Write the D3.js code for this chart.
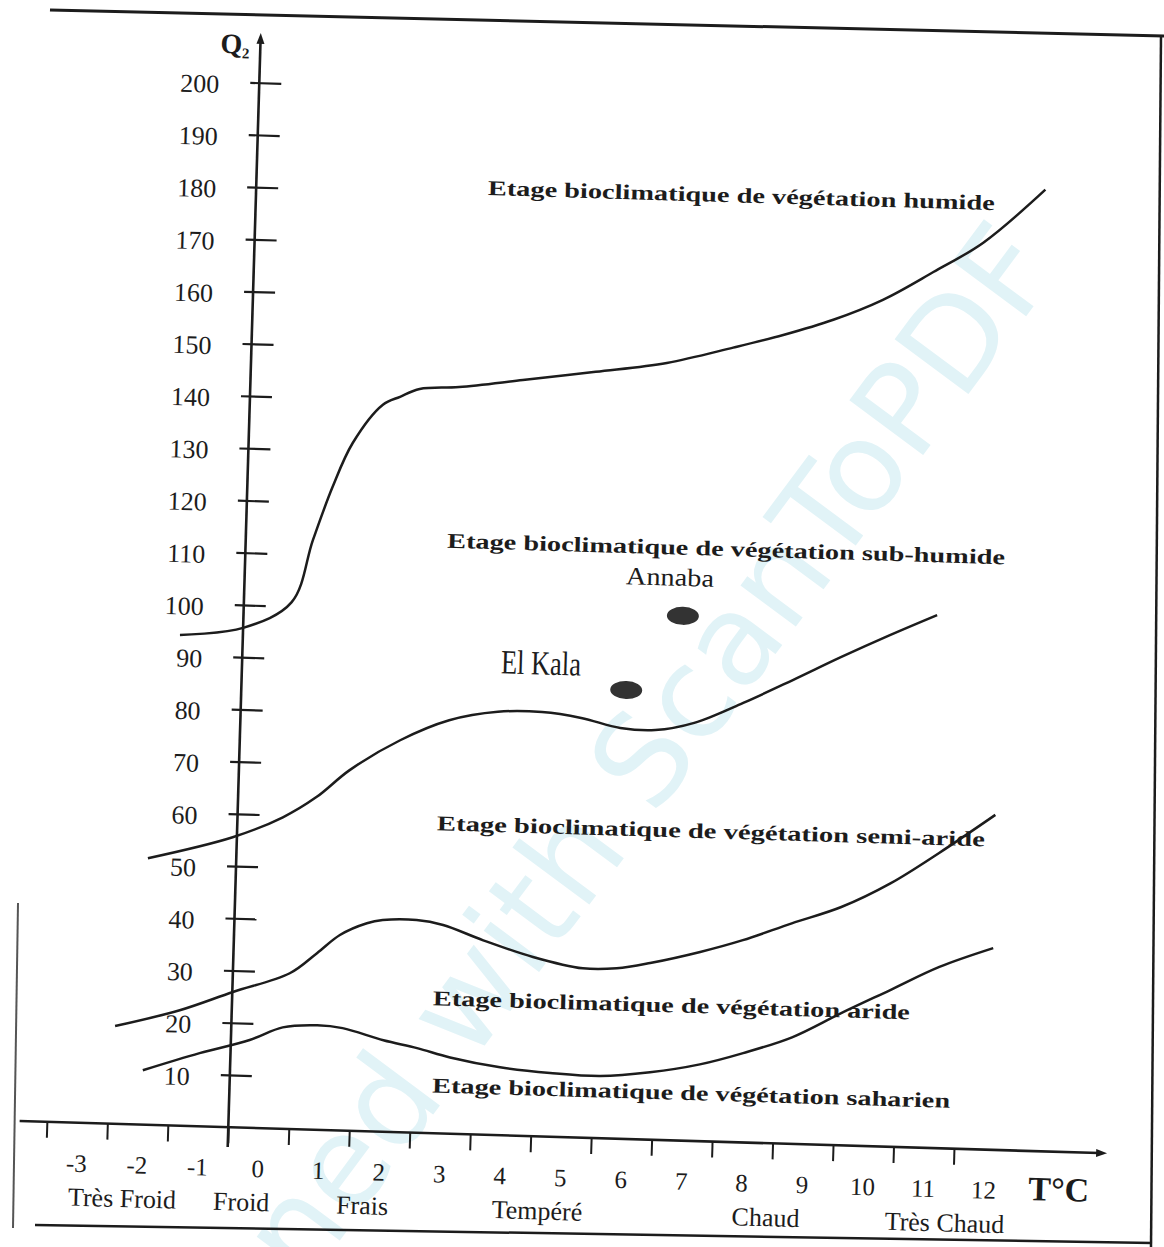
<!DOCTYPE html>
<html>
<head>
<meta charset="utf-8">
<script src="https://cdn.jsdelivr.net/npm/d3@7"></script>
<style>
  body { margin: 0; background: #fff; }
  svg { display: block; }
</style>
</head>
<body>
<script>
const width = 1164
const height = 1247

// axis ticks
const qTicks = d3.range(10, 201, 10)
const tTicks = d3.range(-3, 13)

// temperature classes under the T axis
const categories = ["Très Froid", "Froid", "Frais", "Tempéré", "Chaud", "Très Chaud"]
const categoryT = [-2.22, -0.25, 1.75, 4.64, 8.42, 11.38]

// limits between the bioclimatic stages (T = m in °C, Q = Q2)
const limHumideT = [-1.54, -0.5, 0.29, 0.61, 0.91, 1.22, 1.7, 1.98, 2.3, 2.95, 4.0, 5.2, 6.37, 7.46, 8.28, 9.1, 9.91, 10.73, 11.54, 12.54]
const limHumideQ = [93.9, 95.6, 100.8, 112.8, 123.1, 131.6, 139.1, 140.7, 142.3, 142.9, 144.6, 146.6, 148.7, 152.0, 154.7, 157.9, 162.0, 167.6, 173.5, 184.0]

const limSubHumideT = [-1.96, -0.57, 0.25, 0.8, 1.33, 2.15, 2.95, 3.75, 4.48, 5.13, 5.78, 6.36, 7.0, 7.8, 8.6, 9.39, 10.19, 10.96]
const limSubHumideQ = [51.0, 55.5, 59.6, 63.7, 69.0, 75.0, 79.1, 81.0, 81.2, 80.3, 78.6, 78.4, 80.0, 84.1, 88.7, 93.4, 97.9, 102.0]

const limSemiArideT = [-2.42, -1.36, -0.49, 0.44, 0.88, 1.25, 1.69, 1.95, 2.51, 2.95, 3.62, 4.45, 5.28, 5.84, 6.39, 7.21, 7.91, 8.71, 9.52, 10.32, 11.11, 12.02]
const limSemiArideQ = [18.7, 22.1, 25.9, 29.8, 33.8, 37.4, 39.8, 40.5, 40.7, 39.9, 37.2, 34.3, 32.4, 32.6, 33.8, 36.2, 38.7, 42.2, 45.6, 50.4, 56.5, 64.1]

const limArideT = [-1.94, -1.01, -0.19, 0.35, 0.92, 1.34, 2.02, 2.58, 3.13, 3.96, 4.79, 5.62, 6.44, 7.26, 7.97, 8.77, 9.57, 10.37, 11.17, 12.05]
const limArideQ = [10.4, 14.0, 16.8, 19.4, 20.0, 19.6, 17.5, 16.2, 14.6, 13.0, 12.2, 11.9, 12.9, 14.7, 17.1, 20.4, 25.3, 30.0, 34.7, 38.6]

// stage names and where they are written
const zoneNames = [
  "Etage bioclimatique de végétation humide",
  "Etage bioclimatique de végétation sub-humide",
  "Etage bioclimatique de végétation semi-aride",
  "Etage bioclimatique de végétation aride",
  "Etage bioclimatique de végétation saharien"
]
const zoneT = [3.33, 2.83, 2.8, 2.82, 2.85]
const zoneQ = [179.8, 112.1, 58.0, 24.5, 7.8]

// stations
const stationNames = ["Annaba", "El Kala"]
const stationT = [6.76, 5.86]
const stationQ = [100.4, 85.9]

const ink = "#1c1c1c"
const serif = "'Liberation Serif', 'Times New Roman', serif"

const x = d3.scaleLinear().domain([-0.5, 14.5]).range([243.5, 1151])
const y = d3.scaleLinear().domain([0, 200]).range([1138, 93])

const svg = d3.select("body").append("svg")
    .attr("width", width)
    .attr("height", height)

// scanner watermark
svg.append("text")
    .attr("transform", "translate(1062,268) rotate(-53.4)")
    .attr("text-anchor", "end")
    .attr("font-family", "'DejaVu Sans', sans-serif")
    .attr("font-size", 126)
    .attr("fill", "#e1f3f7")
    .text("Scanned with ScanToPDF")

// page frame from the scan
const frame = svg.append("g").attr("stroke", ink).attr("fill", "none")
frame.append("line").attr("x1", 50).attr("y1", 10).attr("x2", 1164).attr("y2", 36).attr("stroke-width", 3)
frame.append("line").attr("x1", 1161).attr("y1", 36).attr("x2", 1151).attr("y2", 1247).attr("stroke-width", 2.5)
frame.append("line").attr("x1", 35).attr("y1", 1225).attr("x2", 1152).attr("y2", 1243).attr("stroke-width", 2.5)
frame.append("line").attr("x1", 18).attr("y1", 903).attr("x2", 13).attr("y2", 1228).attr("stroke-width", 2).attr("stroke", "#555")

// the scanned sheet is slightly turned
const g = svg.append("g").attr("transform", "rotate(1.7,600,620)")

// Q2 axis
const yAxis = gg => gg
    .attr("transform", `translate(${x(-0.5)},0)`)
    .call(d3.axisLeft(y).tickValues(qTicks).tickSize(0))
    .call(gg => gg.select(".domain").remove())
    .call(gg => gg.selectAll(".tick line")
        .attr("x1", -9).attr("x2", 22)
        .attr("stroke", ink).attr("stroke-width", 2.2))
    .call(gg => gg.selectAll(".tick text")
        .attr("x", -40).attr("dy", "0.42em")
        .attr("fill", ink)
        .attr("font-family", serif).attr("font-size", 26))

g.append("g").call(yAxis)

g.append("line")
    .attr("x1", x(-0.5)).attr("x2", x(-0.5))
    .attr("y1", y(-3.8)).attr("y2", y(208))
    .attr("stroke", ink).attr("stroke-width", 2.6)

g.append("path")
    .attr("d", `M${x(-0.5)},${y(208) - 8} l-4,11 l8,0 z`)
    .attr("fill", ink)

g.append("text")
    .attr("x", x(-0.5) - 40).attr("y", y(208) + 13)
    .attr("font-family", serif).attr("font-size", 28).attr("font-weight", "bold")
    .attr("fill", ink)
    .call(t => t.append("tspan").text("Q"))
    .call(t => t.append("tspan").attr("font-size", 15).attr("dy", 5).text("2"))

// T axis
const xAxis = gg => gg
    .attr("transform", `translate(0,${y(0)})`)
    .call(d3.axisBottom(x).tickValues(tTicks).tickSize(0).tickFormat(d => String(d)))
    .call(gg => gg.select(".domain").remove())
    .call(gg => gg.selectAll(".tick line")
        .attr("x1", x(-0.5) - x(0)).attr("x2", x(-0.5) - x(0))
        .attr("y1", 0).attr("y2", 16)
        .attr("stroke", ink).attr("stroke-width", 2))
    .call(gg => gg.selectAll(".tick text")
        .attr("y", 49).attr("dy", 0)
        .attr("fill", ink)
        .attr("font-family", serif).attr("font-size", 25))
    .call(gg => gg.append("text")
        .attr("x", x(12.75)).attr("y", 49)
        .attr("text-anchor", "start")
        .attr("fill", ink)
        .attr("font-family", serif).attr("font-size", 34).attr("font-weight", "bold")
        .text("T°C"))

g.append("g").call(xAxis)

g.append("line")
    .attr("x1", x(-3.95)).attr("x2", x(13.9))
    .attr("y1", y(0)).attr("y2", y(0))
    .attr("stroke", ink).attr("stroke-width", 2.6)

g.append("path")
    .attr("d", `M${x(13.9) + 8},${y(0)} l-11,-4 l0,8 z`)
    .attr("fill", ink)

g.append("g")
    .attr("font-family", serif).attr("font-size", 26).attr("fill", ink)
    .attr("text-anchor", "middle")
  .selectAll("text")
  .data(categories)
  .join("text")
    .attr("x", (d, i) => x(categoryT[i]))
    .attr("y", y(0) + 83)
    .text(d => d)

// limits between stages
const line = d3.line()
    .x(d => x(d[0]))
    .y(d => y(d[1]))
    .curve(d3.curveCatmullRom.alpha(0.5))

const limits = [
  d3.zip(limHumideT, limHumideQ),
  d3.zip(limSubHumideT, limSubHumideQ),
  d3.zip(limSemiArideT, limSemiArideQ),
  d3.zip(limArideT, limArideQ)
]

g.append("g")
    .attr("fill", "none")
    .attr("stroke", ink)
    .attr("stroke-width", 2.5)
    .attr("stroke-linejoin", "round")
  .selectAll("path")
  .data(limits)
  .join("path")
    .attr("d", line)

// stage names
const zoneWidths = [507, 558, 548, 477, 518]
g.append("g")
    .attr("font-family", serif).attr("font-size", 21).attr("font-weight", "bold")
    .attr("fill", ink)
  .selectAll("text")
  .data(zoneNames)
  .join("text")
    .attr("x", (d, i) => x(zoneT[i]))
    .attr("y", (d, i) => y(zoneQ[i]))
    .attr("textLength", (d, i) => zoneWidths[i])
    .attr("lengthAdjust", "spacingAndGlyphs")
    .text(d => d)

// stations
const stations = stationNames.map((name, i) => ({name, t: stationT[i], q: stationQ[i]}))
const labelStyle = [
  {dx: -14, dy: -30, size: 25, len: 88},
  {dx: -86, dy: -13, size: 34, len: 80}
]

g.append("g")
  .selectAll("g")
  .data(stations)
  .join("g")
    .attr("transform", d => `translate(${x(d.t)},${y(d.q)})`)
    .call(gg => gg.append("ellipse")
        .attr("rx", 16).attr("ry", 9)
        .attr("fill", "#333"))
    .call(gg => gg.append("text")
        .attr("x", (d, i) => labelStyle[i].dx)
        .attr("y", (d, i) => labelStyle[i].dy)
        .attr("text-anchor", "middle")
        .attr("font-family", serif)
        .attr("font-size", (d, i) => labelStyle[i].size)
        .attr("textLength", (d, i) => labelStyle[i].len)
        .attr("lengthAdjust", "spacingAndGlyphs")
        .attr("fill", ink)
        .text(d => d.name))
</script>
</body>
</html>
